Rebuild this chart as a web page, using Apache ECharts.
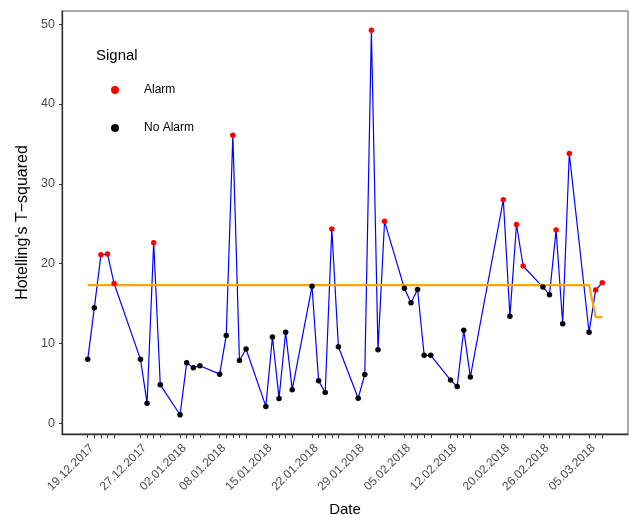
<!DOCTYPE html>
<html>
<head>
<meta charset="utf-8">
<script src="https://cdn.jsdelivr.net/npm/echarts@6/dist/echarts.min.js"></script>
<style>
html,body{margin:0;padding:0;background:#fff;}
#chart{width:629px;height:515px;}
</style>
</head>
<body>
<div id="chart"></div>
<script>
// ---- data ----
const dates = [
  '2017-12-19','2017-12-20','2017-12-21','2017-12-22','2017-12-23',
  '2017-12-27','2017-12-28','2017-12-29','2017-12-30',
  '2018-01-02','2018-01-03','2018-01-04','2018-01-05',
  '2018-01-08','2018-01-09','2018-01-10','2018-01-11','2018-01-12',
  '2018-01-15','2018-01-16','2018-01-17','2018-01-18','2018-01-19',
  '2018-01-22','2018-01-23','2018-01-24','2018-01-25','2018-01-26',
  '2018-01-29','2018-01-30','2018-01-31','2018-02-01','2018-02-02',
  '2018-02-05','2018-02-06','2018-02-07','2018-02-08','2018-02-09',
  '2018-02-12','2018-02-13','2018-02-14','2018-02-15',
  '2018-02-20','2018-02-21','2018-02-22','2018-02-23',
  '2018-02-26','2018-02-27','2018-02-28','2018-03-01','2018-03-02',
  '2018-03-05','2018-03-06','2018-03-07'
];
const tSquared = [
  8.0, 14.45, 21.1, 21.2, 17.5,
  8.0, 2.5, 22.6, 4.8,
  1.05, 7.56, 6.93, 7.2,
  6.14, 11.0, 36.1, 7.85, 9.3,
  2.1, 10.8, 3.1, 11.4, 4.2,
  17.15, 5.3, 3.85, 24.35, 9.57,
  3.13, 6.1, 49.25, 9.2, 25.3,
  16.9, 15.1, 16.75, 8.5, 8.5,
  5.4, 4.6, 11.65, 5.8,
  28.0, 13.4, 24.9, 19.7,
  17.05, 16.1, 24.2, 12.45, 33.8,
  11.4, 16.7, 17.6
];
const limit = [
  17.3,17.3,17.3,17.3,17.3,
  17.3,17.3,17.3,17.3,
  17.3,17.3,17.3,17.3,
  17.3,17.3,17.3,17.3,17.3,
  17.3,17.3,17.3,17.3,17.3,
  17.3,17.3,17.3,17.3,17.3,
  17.3,17.3,17.3,17.3,17.3,
  17.3,17.3,17.3,17.3,17.3,
  17.3,17.3,17.3,17.3,
  17.3,17.3,17.3,17.3,
  17.3,17.3,17.3,17.3,17.3,
  17.3,13.3,13.3
];
const labelDates = ['2017-12-19','2017-12-27','2018-01-02','2018-01-08','2018-01-15','2018-01-22',
  '2018-01-29','2018-02-05','2018-02-12','2018-02-20','2018-02-26','2018-03-05'];
const yTicks = [0, 10, 20, 30, 40, 50];

// ---- helpers ----
const DAY = 86400000;
const ts = s => { const p = s.split('-'); return Date.UTC(+p[0], +p[1]-1, +p[2]); };
const t0 = ts(dates[0]);
const dayNum = s => Math.round((ts(s) - t0) / DAY);
const fmt = v => { const d = new Date(t0 + Math.round(v) * DAY); const z = n => (n<10?'0':'')+n;
  return z(d.getUTCDate()) + '.' + z(d.getUTCMonth()+1) + '.' + d.getUTCFullYear(); };
const xs = dates.map(dayNum);
const span = xs[xs.length-1] - xs[0];
const xMin = xs[0] - 0.05*span, xMax = xs[xs.length-1] + 0.05*span;
const yLo = Math.min(...tSquared), yHi = Math.max(...tSquared);
const yMin = yLo - 0.05*(yHi-yLo), yMax = yHi + 0.05*(yHi-yLo);

const lineData = xs.map((x,i)=>[x, tSquared[i]]);
const limitData = xs.map((x,i)=>[x, limit[i]]);
const alarmData = [], okData = [];
xs.forEach((x,i)=>{ (tSquared[i] > limit[i] ? alarmData : okData).push([x, tSquared[i]]); });

const FONT = '"Liberation Sans", Arial, Helvetica, sans-serif';
const chart = echarts.init(document.getElementById('chart'), null, {renderer:'canvas'});
chart.setOption({
  animation: false,
  backgroundColor: '#ffffff',
  textStyle: { fontFamily: FONT },
  title: { text: 'Signal', left: 91, top: 43, textStyle: { fontFamily: FONT, fontSize: 15, fontWeight: 'normal', color: '#000' } },
  legend: {
    orient: 'vertical', left: 106, top: 79, itemGap: 26,
    itemWidth: 8, itemHeight: 8, icon: 'circle',
    data: ['Alarm', 'No Alarm'],
    textStyle: { fontFamily: FONT, fontSize: 12, color: '#000', padding: [0,0,0,20] }
  },
  grid: { left: 62, right: 1, top: 11, bottom: 81, outerBoundsMode: 'none', containLabel: false,
    show: true, borderColor: '#555', borderWidth: 1, backgroundColor: '#fff' },
  xAxis: {
    type: 'value', min: xMin, max: xMax,
    name: 'Date', nameLocation: 'middle', nameGap: 68,
    nameTextStyle: { fontFamily: FONT, fontSize: 15, color: '#000' },
    axisLine: { show: true, onZero: false, lineStyle: { color: '#333', width: 1.3 } },
    axisTick: { show: true, length: 4, lineStyle: { color: '#333', width: 1 }, customValues: xs },
    axisLabel: { rotate: 45, margin: 8, fontSize: 12, color: '#4d4d4d', fontFamily: FONT,
      align: 'right', verticalAlign: 'top',
      customValues: labelDates.map(dayNum), formatter: v => fmt(v) },
    splitLine: { show: false }, minorTick: { show: false }
  },
  yAxis: {
    type: 'value', min: yMin, max: yMax,
    name: "Hotelling's T\u2212squared", nameLocation: 'middle', nameGap: 31,
    nameTextStyle: { fontFamily: FONT, fontSize: 16, color: '#000' },
    axisLine: { show: true, onZero: false, lineStyle: { color: '#333', width: 1.3 } },
    axisTick: { show: true, length: 3, lineStyle: { color: '#333' }, customValues: yTicks },
    axisLabel: { margin: 7, fontSize: 12.5, color: '#4d4d4d', fontFamily: FONT, customValues: yTicks },
    splitLine: { show: false }
  },
  series: [
    { name: 'T2', type: 'line', data: lineData, showSymbol: false, symbol: 'none',
      lineStyle: { color: '#0000ff', width: 1.2 }, z: 2, silent: true },
    { name: 'Limit', type: 'line', data: limitData, showSymbol: false, symbol: 'none',
      lineStyle: { color: '#ffa500', width: 2.2 }, z: 3, silent: true },
    { name: 'Alarm', type: 'scatter', data: alarmData, symbol: 'circle', symbolSize: 5.5,
      itemStyle: { color: '#ff0000', opacity: 1 }, z: 4 },
    { name: 'No Alarm', type: 'scatter', data: okData, symbol: 'circle', symbolSize: 5.5,
      itemStyle: { color: '#000000', opacity: 1 }, z: 4 }
  ]
});
</script>
</body>
</html>
